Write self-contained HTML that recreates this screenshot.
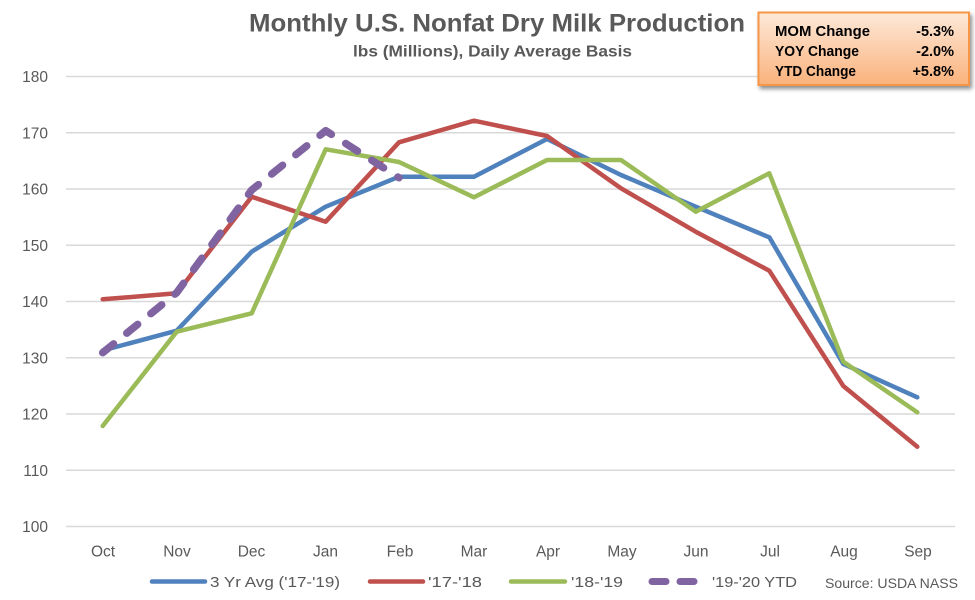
<!DOCTYPE html>
<html>
<head>
<meta charset="utf-8">
<style>
  html,body{margin:0;padding:0;background:#fff;}
  svg{display:block;}
  text{font-family:"Liberation Sans",sans-serif;fill:#595959;}
</style>
</head>
<body>
<svg width="975" height="600" viewBox="0 0 975 600" xmlns="http://www.w3.org/2000/svg">
  <defs>
    <linearGradient id="boxg" x1="0" y1="0" x2="0" y2="1">
      <stop offset="0" stop-color="#FDE9D9"/>
      <stop offset="1" stop-color="#FAB27C"/>
    </linearGradient>
    <filter id="sh" x="-10%" y="-10%" width="130%" height="140%">
      <feGaussianBlur in="SourceAlpha" stdDeviation="2"/>
      <feOffset dx="2" dy="3" result="o"/>
      <feComponentTransfer><feFuncA type="linear" slope="0.45"/></feComponentTransfer>
      <feMerge><feMergeNode/><feMergeNode in="SourceGraphic"/></feMerge>
    </filter>
  </defs>
  <rect width="975" height="600" fill="#fff"/>

  <!-- Title -->
  <text x="249" y="31.5" font-size="25" font-weight="bold" textLength="496" lengthAdjust="spacingAndGlyphs">Monthly U.S. Nonfat Dry Milk Production</text>
  <text x="353" y="56.5" font-size="16" font-weight="bold" textLength="279" lengthAdjust="spacingAndGlyphs">lbs (Millions), Daily Average Basis</text>

  <!-- Gridlines -->
  <g stroke="#D9D9D9" stroke-width="1.5">
    <line x1="66" x2="955" y1="76.5" y2="76.5"/>
    <line x1="66" x2="955" y1="132.75" y2="132.75"/>
    <line x1="66" x2="955" y1="189" y2="189"/>
    <line x1="66" x2="955" y1="245.25" y2="245.25"/>
    <line x1="66" x2="955" y1="301.5" y2="301.5"/>
    <line x1="66" x2="955" y1="357.75" y2="357.75"/>
    <line x1="66" x2="955" y1="414" y2="414"/>
    <line x1="66" x2="955" y1="470.25" y2="470.25"/>
    <line x1="66" x2="955" y1="526.5" y2="526.5"/>
  </g>

  <!-- Y labels -->
  <g font-size="15.5" text-anchor="end">
    <text x="48" y="82">180</text>
    <text x="48" y="138.25">170</text>
    <text x="48" y="194.5">160</text>
    <text x="48" y="250.75">150</text>
    <text x="48" y="307">140</text>
    <text x="48" y="363.25">130</text>
    <text x="48" y="419.5">120</text>
    <text x="48" y="475.75">110</text>
    <text x="48" y="532">100</text>
  </g>

  <!-- X labels -->
  <g font-size="15.5" text-anchor="middle">
    <text x="103" y="556.5">Oct</text>
    <text x="177" y="556.5">Nov</text>
    <text x="251.5" y="556.5">Dec</text>
    <text x="325.5" y="556.5">Jan</text>
    <text x="400" y="556.5">Feb</text>
    <text x="474" y="556.5">Mar</text>
    <text x="548" y="556.5">Apr</text>
    <text x="622" y="556.5">May</text>
    <text x="696" y="556.5">Jun</text>
    <text x="770" y="556.5">Jul</text>
    <text x="844" y="556.5">Aug</text>
    <text x="918" y="556.5">Sep</text>
  </g>

  <!-- Series -->
  <g fill="none" stroke-width="4.5" stroke-linejoin="round" stroke-linecap="round">
    <polyline stroke="#4F81BD" points="102.7,350.5 176.7,330.7 251.7,251.7 325.7,206.7 399,176.7 474,176.7 547,139 621,175 695.7,206.7 769.3,237.3 843.3,364 917.3,397.3"/>
    <polyline stroke="#C0504D" points="102.7,299.3 176.7,293.3 251.7,196.7 325.7,221.7 399,142.3 474,120.7 547,136 621,188.3 695.7,231.7 769.3,270.7 843.3,386 917.3,446.7"/>
    <polyline stroke="#9BBB59" points="102.7,426 176.7,331.7 251.7,313.3 325.7,149.3 399,162 474,197.3 547,160 621,160 695.7,211.7 769.3,173.3 843.3,361.7 917.3,412.3"/>
    <polyline stroke="#8064A2" stroke-width="7.5" stroke-dasharray="14 17" points="102.7,352.7 176.7,292.7 251.7,190 325.7,130.7 399,177.7"/>
  </g>

  <!-- Legend -->
  <g stroke-width="4.5" stroke-linecap="round">
    <line x1="152" x2="205" y1="581.5" y2="581.5" stroke="#4F81BD"/>
    <line x1="370" x2="423" y1="581.5" y2="581.5" stroke="#C0504D"/>
    <line x1="511" x2="565" y1="581.5" y2="581.5" stroke="#9BBB59"/>
    <line x1="652" x2="666" y1="581.5" y2="581.5" stroke="#8064A2" stroke-width="7"/>
    <line x1="680" x2="694" y1="581.5" y2="581.5" stroke="#8064A2" stroke-width="7"/>
  </g>
  <g font-size="15">
    <text x="210" y="587" textLength="130" lengthAdjust="spacingAndGlyphs">3 Yr Avg ('17-'19)</text>
    <text x="428" y="587" textLength="54" lengthAdjust="spacingAndGlyphs">'17-'18</text>
    <text x="571" y="587" textLength="52" lengthAdjust="spacingAndGlyphs">'18-'19</text>
    <text x="712" y="587" textLength="85" lengthAdjust="spacingAndGlyphs">'19-'20 YTD</text>
  </g>
  <text x="825" y="588" font-size="13.5" fill="#404040" textLength="133" lengthAdjust="spacingAndGlyphs">Source: USDA NASS</text>

  <!-- Info box -->
  <rect x="758.5" y="12.5" width="210.5" height="72.5" fill="url(#boxg)" stroke="#F79646" stroke-width="2" filter="url(#sh)"/>
  <g font-size="14.5" font-weight="bold" style="fill:#000">
    <text x="775" y="36" textLength="95" lengthAdjust="spacingAndGlyphs" style="fill:#000">MOM Change</text>
    <text x="775" y="56" textLength="84" lengthAdjust="spacingAndGlyphs" style="fill:#000">YOY Change</text>
    <text x="775" y="76" textLength="81" lengthAdjust="spacingAndGlyphs" style="fill:#000">YTD Change</text>
    <text x="954" y="36" text-anchor="end" style="fill:#000">-5.3%</text>
    <text x="954" y="56" text-anchor="end" style="fill:#000">-2.0%</text>
    <text x="954" y="76" text-anchor="end" style="fill:#000">+5.8%</text>
  </g>
</svg>
</body>
</html>
